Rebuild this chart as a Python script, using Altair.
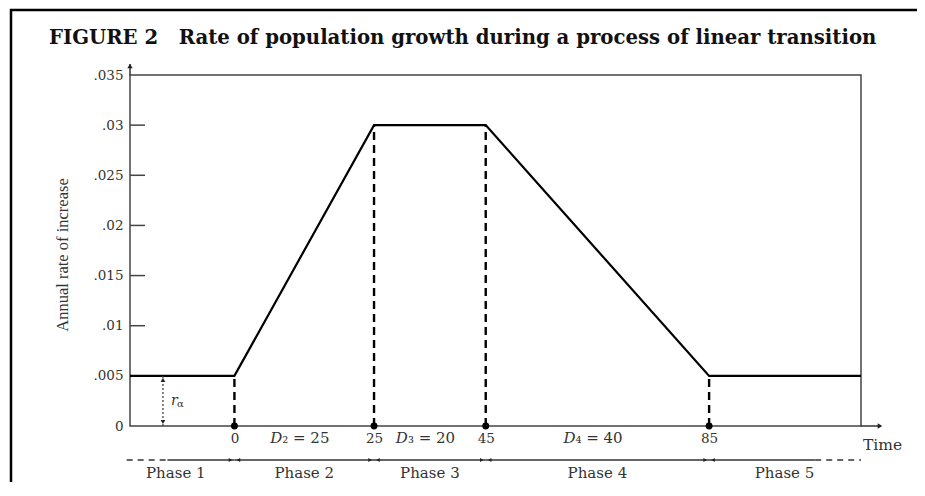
import altair as alt
import pandas as pd

# ---------------- data ----------------
line_t = [-18.7, 0, 25, 45, 85, 112.2]
line_r = [0.005, 0.005, 0.03, 0.03, 0.005, 0.005]

bound_t = [0, 25, 45, 85]
bound_r = [0.005, 0.03, 0.03, 0.005]

y_tick_values = [0, 0.005, 0.01, 0.015, 0.02, 0.025, 0.03, 0.035]
inner_ticks = [0.005, 0.01, 0.015, 0.02, 0.025, 0.03]
x_tick_values = [0, 25, 45, 85]

d_centers = [12.5, 35, 65]
d_rest = ["\u2082 = 25", "\u2083 = 20", "\u2084 = 40"]

phase_centers = [-10.5, 12.5, 35, 65, 98.5]
phase_names = ["Phase 1", "Phase 2", "Phase 3", "Phase 4", "Phase 5"]
phase_solid_start = [-12, 0, 25, 45, 85]
phase_solid_end = [0, 25, 45, 85, 104]
phase_dash_start = [-19.3, 104]
phase_dash_end = [-12, 112.2]

r_alpha_t = -12.8
r_alpha_value = 0.005
axis_end_t = [112.2, 115.6]

title_text = "FIGURE 2\u00a0\u00a0\u00a0Rate of population growth during a process of linear transition"
y_title = "Annual rate of increase"
x_title = "Time"

# ---------------- scales / axes ----------------
xs = alt.Scale(domain=[-18.7, 112.2], nice=False, zero=False)
ys = alt.Scale(domain=[0, 0.035], nice=False, zero=False)

LABEL_FONT = "DejaVu Serif"
TXT = "#333333"

xaxis = alt.Axis(values=x_tick_values, format="d", ticks=False, domain=False,
                 grid=False, title=None, labelPadding=5, labelFont=LABEL_FONT,
                 labelFontSize=13.5, labelColor=TXT)
yaxis = alt.Axis(values=y_tick_values, ticks=False, domain=False, grid=False,
                 title=None, labelPadding=7, labelFont=LABEL_FONT,
                 labelFontSize=13.5, labelColor=TXT,
                 labelExpr="datum.value == 0 ? '0' : replace(format(datum.value, '.3~f'), '0.', '.')")


def X(field="t"):
    return alt.X(f"{field}:Q", scale=xs, axis=xaxis)


def Y(field="r"):
    return alt.Y(f"{field}:Q", scale=ys, axis=yaxis)


one = pd.DataFrame({"t": [0.0], "r": [0.0]})

# main curve
df_line = pd.DataFrame({"t": line_t, "r": line_r})
curve = alt.Chart(df_line).mark_line(color="black", strokeWidth=2.2).encode(x=X(), y=Y())

# dashed verticals
df_b = pd.DataFrame({"t": bound_t, "r": [0.0] * len(bound_t), "r2": bound_r})
verts = alt.Chart(df_b).mark_rule(color="black", strokeWidth=2.4, strokeDash=[8, 5]).encode(
    x=X(), y=Y(), y2="r2:Q")
dots = alt.Chart(df_b).mark_point(filled=True, color="black", size=48, opacity=1).encode(
    x=X(), y=Y())

# inner y ticks
df_yt = pd.DataFrame({"r": inner_ticks})
yticks = alt.Chart(df_yt).mark_rule(color="#444444", strokeWidth=1.5).encode(
    x=alt.value(0), x2=alt.value(15), y=Y())

# y axis arrow at top
yarrow_line = alt.Chart(one).mark_rule(color="#333333", strokeWidth=1.5).encode(
    x=alt.value(0), y=alt.value(0), y2=alt.value(-11))
yarrow_head = alt.Chart(one).mark_point(shape="triangle-up", filled=True, color="#222222",
                                        size=28, opacity=1).encode(
    x=alt.value(0), y=alt.value(-9))

# x axis extension with arrow
df_xe = pd.DataFrame({"t": [axis_end_t[0]], "t2": [axis_end_t[1]], "r": [0.0]})
xarrow_line = alt.Chart(df_xe).mark_rule(color="#333333", strokeWidth=1.5).encode(
    x=X(), x2="t2:Q", y=Y())
df_xh = pd.DataFrame({"t": [axis_end_t[1]], "r": [0.0]})
xarrow_head = alt.Chart(df_xh).mark_point(shape="triangle-right", filled=True, color="#222222",
                                          size=28, opacity=1).encode(x=X(), y=Y())

# r_alpha arrow
df_ra = pd.DataFrame({"t": [r_alpha_t], "r": [0.0], "r2": [r_alpha_value]})
ra_line = alt.Chart(df_ra).mark_rule(color="#444444", strokeWidth=1.3, strokeDash=[2, 2]).encode(
    x=X(), y=Y(), y2="r2:Q")
df_ra_top = pd.DataFrame({"t": [r_alpha_t], "r": [r_alpha_value]})
df_ra_bot = pd.DataFrame({"t": [r_alpha_t], "r": [0.0]})
ra_top = alt.Chart(df_ra_top).mark_point(shape="triangle-up", filled=True, color="#222222",
                                         size=22, opacity=1, yOffset=4).encode(x=X(), y=Y())
ra_bot = alt.Chart(df_ra_bot).mark_point(shape="triangle-down", filled=True, color="#222222",
                                         size=22, opacity=1, yOffset=-4).encode(x=X(), y=Y())
df_ra_lab = pd.DataFrame({"t": [r_alpha_t], "r": [r_alpha_value / 2]})
ra_r = alt.Chart(df_ra_lab).mark_text(text="r", font=LABEL_FONT, fontStyle="italic", fontSize=14,
                                      color=TXT, align="left", baseline="middle", dx=8).encode(
    x=X(), y=Y())
ra_a = alt.Chart(df_ra_lab).mark_text(text="\u03b1", font=LABEL_FONT, fontSize=10,
                                      color=TXT, align="left", baseline="middle", dx=14, dy=3).encode(
    x=X(), y=Y())

# D labels
df_d = pd.DataFrame({"t": d_centers, "rest": d_rest})
d_D = alt.Chart(df_d).mark_text(text="D", font=LABEL_FONT, fontStyle="italic", fontSize=15,
                                color=TXT, align="right", baseline="middle", dx=-22).encode(
    x=X(), y=alt.value(363))
d_rest_t = alt.Chart(df_d).mark_text(font=LABEL_FONT, fontSize=15, color=TXT, align="left",
                                     baseline="middle", dx=-22).encode(
    x=X(), y=alt.value(363), text="rest:N")

# phase line
df_ps = pd.DataFrame({"t": phase_solid_start, "t2": phase_solid_end})
phase_solid = alt.Chart(df_ps).mark_rule(color="#333333", strokeWidth=1.4).encode(
    x=X(), x2="t2:Q", y=alt.value(385))
df_pd = pd.DataFrame({"t": phase_dash_start, "t2": phase_dash_end})
phase_dash = alt.Chart(df_pd).mark_rule(color="#333333", strokeWidth=1.4, strokeDash=[6, 5]).encode(
    x=X(), x2="t2:Q", y=alt.value(385))
df_pb = pd.DataFrame({"t": bound_t})
arr_r = alt.Chart(df_pb).mark_point(shape="triangle-right", filled=True, color="#222222",
                                    size=16, opacity=1, xOffset=-4).encode(x=X(), y=alt.value(385))
arr_l = alt.Chart(df_pb).mark_point(shape="triangle-left", filled=True, color="#222222",
                                    size=16, opacity=1, xOffset=4).encode(x=X(), y=alt.value(385))
df_pn = pd.DataFrame({"t": phase_centers, "name": phase_names})
phase_txt = alt.Chart(df_pn).mark_text(font=LABEL_FONT, fontSize=15, color=TXT,
                                       baseline="middle").encode(
    x=X(), y=alt.value(398), text="name:N")

# axis titles and figure title
time_txt = alt.Chart(one).mark_text(text=x_title, font=LABEL_FONT, fontSize=15.5, color=TXT,
                                    align="left", baseline="middle").encode(
    x=alt.value(733), y=alt.value(370))
ytitle = alt.Chart(one).mark_text(text=y_title, font="Liberation Serif", fontSize=16.5, color=TXT,
                                  angle=270, align="center", baseline="middle").encode(
    x=alt.value(-67), y=alt.value(180))
title = alt.Chart(one).mark_text(text=title_text, font="DejaVu Serif", fontWeight="bold",
                                 fontSize=19.7, color="#111111", align="left",
                                 baseline="alphabetic").encode(
    x=alt.value(-81), y=alt.value(-31))

# outer border
border = alt.Chart(one).mark_rect(filled=False, fill=None, stroke="black", strokeWidth=2.5).encode(
    x=alt.value(-119), x2=alt.value(900), y=alt.value(-65), y2=alt.value(480))

chart = alt.layer(
    border, title, ytitle, time_txt,
    yticks, yarrow_line, yarrow_head, xarrow_line, xarrow_head,
    verts, curve, dots,
    ra_line, ra_top, ra_bot, ra_r, ra_a,
    d_D, d_rest_t,
    phase_dash, phase_solid, arr_r, arr_l, phase_txt,
).properties(
    width=731, height=351,
    padding={"left": 122, "top": 67, "right": 56, "bottom": 56},
    autosize=alt.AutoSizeParams(type="none"),
    background="white",
).configure_view(
    stroke="#444444", strokeWidth=1.5
)

chart.save("out.html", embed_options={"renderer": "svg", "actions": False})
